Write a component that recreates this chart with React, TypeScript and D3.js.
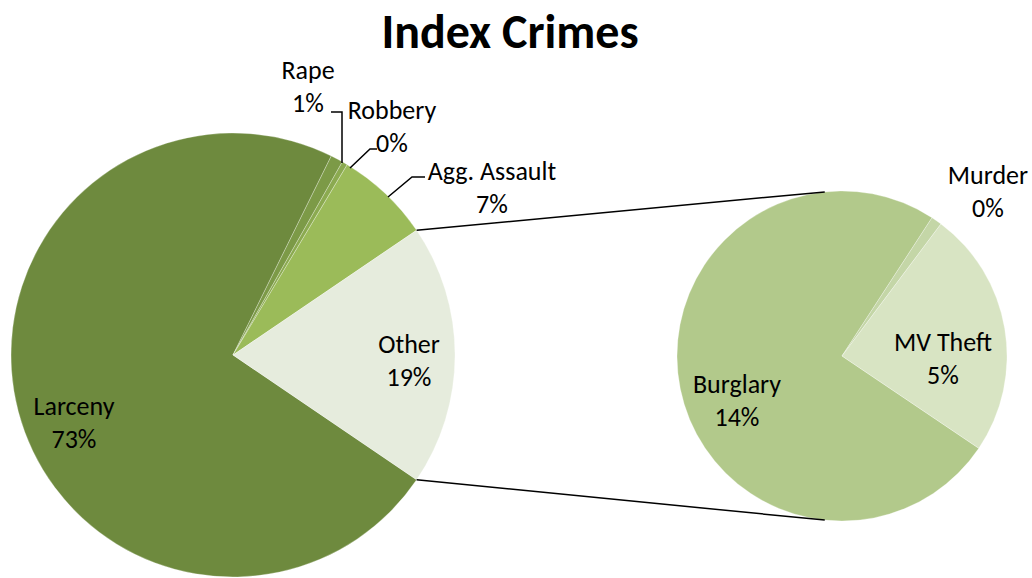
import React from "react";
import * as d3 from "d3";

const mainCategories = ["Larceny", "Rape", "Robbery", "Agg. Assault"];
const mainValues = [72.8, 0.9, 0.4, 6.9];
const mainColors = ["#6E8A3E", "#7C9A47", "#8BAA50", "#9BBB59"];

const secondCategories = ["Burglary", "Murder", "MV Theft"];
const secondValues = [14.2, 0.2, 4.6];
const secondColors = ["#B2C98B", "#C4D6A7", "#D8E4C3"];

const otherLabel = "Other";
const otherColor = "#E6ECDD";
const title = "Index Crimes";

const W = 1032;
const H = 578;
const deg = Math.PI / 180;

export default function App() {
  const total = d3.sum(mainValues) + d3.sum(secondValues);
  const otherVal = d3.sum(secondValues);
  const pct = (v: number) => `${Math.round((v / total) * 100)}%`;

  // main pie
  const c1 = { x: 233, y: 355 };
  const r1 = 222;
  const otherAngle = (otherVal / total) * 2 * Math.PI;
  const otherStart = Math.PI / 2 - otherAngle / 2;
  const otherEnd = otherStart + otherAngle;
  const mainPie = d3
    .pie<number>()
    .sort(null)
    .startAngle(otherEnd)
    .endAngle(otherEnd + 2 * Math.PI - otherAngle);
  const mainArcs = mainPie(mainValues);
  const arc1 = d3.arc<any>().innerRadius(0).outerRadius(r1);

  // secondary pie
  const c2 = { x: 842, y: 356 };
  const r2 = 165;
  const secStart = 124 * deg;
  const secPie = d3
    .pie<number>()
    .sort(null)
    .startAngle(secStart)
    .endAngle(secStart + 2 * Math.PI);
  const secArcs = secPie(secondValues);
  const arc2 = d3.arc<any>().innerRadius(0).outerRadius(r2);

  const pt = (c: { x: number; y: number }, r: number, a: number) => ({
    x: c.x + r * Math.sin(a),
    y: c.y - r * Math.cos(a),
  });

  const p1a = pt(c1, r1, otherStart);
  const p1b = pt(c1, r1, otherEnd);
  const p2a = pt(c2, r2, -6 * deg);
  const p2b = pt(c2, r2, 186 * deg);

  const font = "Calibri, Carlito, 'Open Sans', sans-serif";
  const fs = 26;

  const label = (x: number, y: number, name: string, val: string, key: string) => (
    <g key={key}>
      <text x={x} y={y} textAnchor="middle" dominantBaseline="central">{name}</text>
      <text x={x} y={y + 33} textAnchor="middle" dominantBaseline="central">{val}</text>
    </g>
  );

  return (
    <svg width={W} height={H} style={{ display: "block", position: "absolute", left: 0, top: 0 }}>
      <rect width={W} height={H} fill="#fff" />
      <text x={510} y={31} textAnchor="middle" dominantBaseline="central" fontFamily={font} fontWeight="bold" fontSize={48}>{title}</text>

      <g transform={`translate(${c1.x},${c1.y})`}>
        {mainArcs.map((a, i) => (
          <path key={i} d={arc1(a) as string} fill={mainColors[i]} stroke="#ffffff" strokeOpacity={0.35} strokeWidth={0.8} />
        ))}
        <path d={arc1({ startAngle: otherStart, endAngle: otherEnd }) as string} fill={otherColor} stroke="#ffffff" strokeOpacity={0.35} strokeWidth={0.8} />
      </g>

      <g transform={`translate(${c2.x},${c2.y})`}>
        {secArcs.map((a, i) => (
          <path key={i} d={arc2(a) as string} fill={secondColors[i]} stroke="#ffffff" strokeOpacity={0.35} strokeWidth={0.8} />
        ))}
      </g>

      <line x1={p1a.x} y1={p1a.y} x2={p2a.x} y2={p2a.y} stroke="#000" strokeWidth={1.5} />
      <line x1={p1b.x} y1={p1b.y} x2={p2b.x} y2={p2b.y} stroke="#000" strokeWidth={1.5} />

      {/* leader lines */}
      <g fill="none" stroke="#000" strokeWidth={1.5}>
        <polyline points="342,163 342,112 331,112" />
        <polyline points="350,168 370,149 377,149" />
        <polyline points="388,197 412,177 425,177" />
      </g>

      <g fontFamily={font} fontSize={fs} fill="#000">
        {label(74, 406, mainCategories[0], pct(mainValues[0]), "lar")}
        {label(308, 70, mainCategories[1], pct(mainValues[1]), "rape")}
        {label(392, 110, mainCategories[2], pct(mainValues[2]), "rob")}
        {label(492, 171, mainCategories[3], pct(mainValues[3]), "agg")}
        {label(409, 344, otherLabel, pct(otherVal), "oth")}
        {label(737, 384, secondCategories[0], pct(secondValues[0]), "bur")}
        {label(988, 175, secondCategories[1], pct(secondValues[1]), "mur")}
        {label(943, 342, secondCategories[2], pct(secondValues[2]), "mv")}
      </g>
    </svg>
  );
}
